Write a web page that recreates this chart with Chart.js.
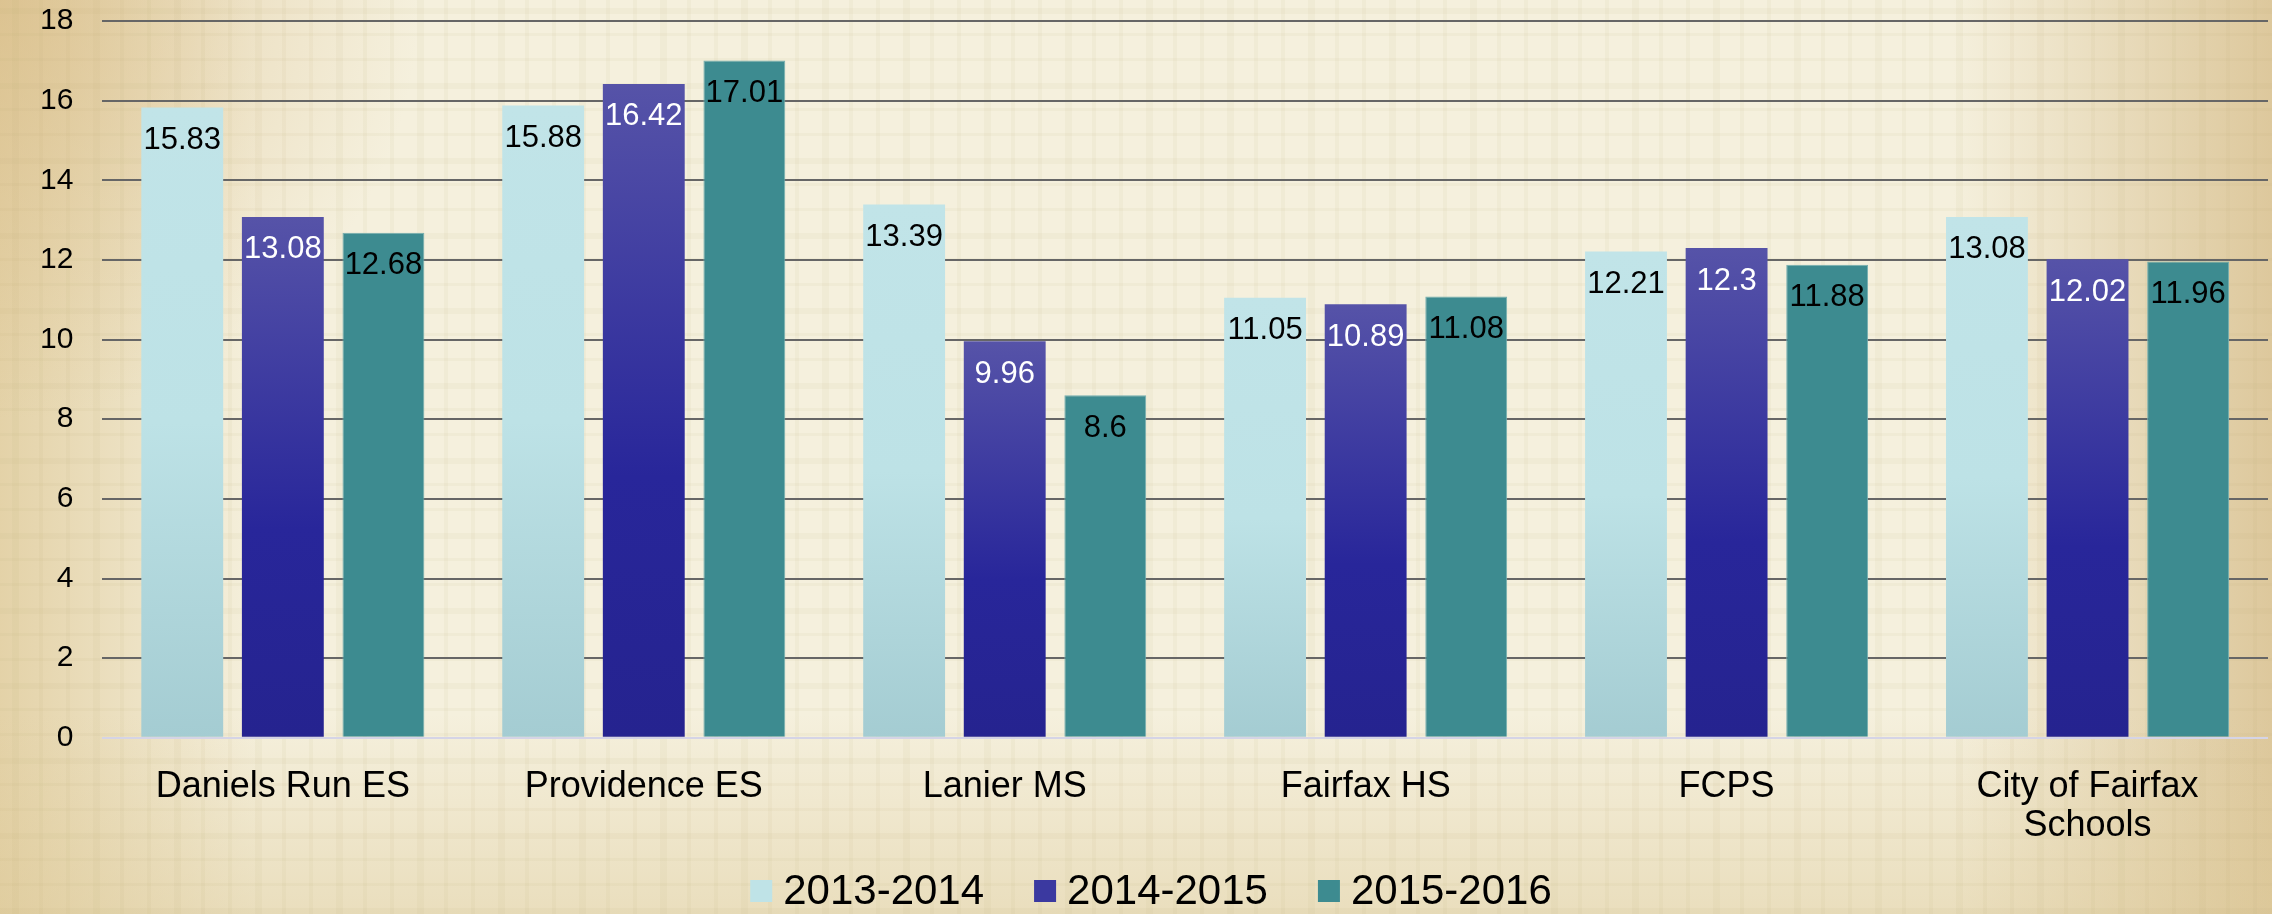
<!DOCTYPE html>
<html>
<head>
<meta charset="utf-8">
<script src="https://cdn.jsdelivr.net/npm/chart.js@4.4.1/dist/chart.umd.min.js"></script>
<style>
  html, body { margin: 0; padding: 0; background: #f4eedb; }
  #wrap { width: 2272px; height: 914px; }
</style>
</head>
<body>
<div id="wrap"><canvas id="expenseChart" width="2272" height="914"></canvas></div>
<script>
// data
const schools = ["Daniels Run ES", "Providence ES", "Lanier MS", "Fairfax HS", "FCPS", ["City of Fairfax", "Schools"]];
const years = ["2013-2014", "2014-2015", "2015-2016"];
const y2013 = [15.83, 15.88, 13.39, 11.05, 12.21, 13.08];
const y2014 = [13.08, 16.42, 9.96, 10.89, 12.3, 12.02];
const y2015 = [12.68, 17.01, 8.6, 11.08, 11.88, 11.96];
const yTicks = [0, 2, 4, 6, 8, 10, 12, 14, 16, 18];

const FONT = "'Liberation Sans', Arial, sans-serif";

// per-bar vertical gradient
function barFill(stops) {
  return function (c) {
    const chart = c.chart;
    const y = chart.scales && chart.scales.y;
    if (!y || c.parsed === undefined) return stops[0][1];
    const yTop = y.getPixelForValue(c.parsed.y);
    const yBot = y.getPixelForValue(0);
    if (!isFinite(yTop) || !isFinite(yBot) || yTop === yBot) return stops[0][1];
    const g = chart.ctx.createLinearGradient(0, yTop, 0, yBot);
    stops.forEach(s => g.addColorStop(s[0], s[1]));
    return g;
  };
}

// parchment background
const paper = {
  id: "paper",
  beforeDraw(chart) {
    const ctx = chart.ctx, w = chart.width, h = chart.height;
    ctx.save();
    ctx.fillStyle = "#f5f0dd";
    ctx.fillRect(0, 0, w, h);
    let g = ctx.createLinearGradient(0, 0, 260, 0);
    g.addColorStop(0, "rgba(222,200,150,0.75)");
    g.addColorStop(1, "rgba(222,200,150,0)");
    ctx.fillStyle = g;
    ctx.fillRect(0, 0, 260, h);
    g = ctx.createLinearGradient(w, 0, w - 320, 0);
    g.addColorStop(0, "rgba(215,190,140,0.8)");
    g.addColorStop(1, "rgba(215,190,140,0)");
    ctx.fillStyle = g;
    ctx.fillRect(w - 320, 0, 320, h);
    g = ctx.createLinearGradient(0, h, 0, h - 200);
    g.addColorStop(0, "rgba(220,200,150,0.45)");
    g.addColorStop(1, "rgba(220,200,150,0)");
    ctx.fillStyle = g;
    ctx.fillRect(0, h - 200, w, 200);
    g = ctx.createRadialGradient(0, 0, 0, 0, 0, 420);
    g.addColorStop(0, "rgba(215,185,130,0.6)");
    g.addColorStop(1, "rgba(215,185,130,0)");
    ctx.fillStyle = g;
    ctx.fillRect(0, 0, 420, 420);
    // faint cloth weave
    ctx.fillStyle = "rgba(190,165,110,0.07)";
    for (let x = 12; x < w; x += 27) ctx.fillRect(x, 0, (x % 81 === 12) ? 7 : 4, h);
    for (let y = 8; y < h; y += 25) ctx.fillRect(0, y, w, (y % 75 === 8) ? 6 : 3);
    ctx.restore();
  }
};

// value labels inside the top of each bar
const valueLabels = {
  id: "valueLabels",
  afterDatasetsDraw(chart) {
    const ctx = chart.ctx;
    ctx.save();
    ctx.font = "31px " + FONT;
    ctx.textAlign = "center";
    ctx.textBaseline = "middle";
    chart.data.datasets.forEach((ds, i) => {
      const meta = chart.getDatasetMeta(i);
      ctx.fillStyle = i === 1 ? "#ffffff" : "#000000";
      meta.data.forEach((bar, j) => {
        ctx.fillText(String(ds.data[j]), bar.x, bar.y + 33);
      });
    });
    ctx.restore();
  }
};

// legend along the bottom, boxes close to the text
const bottomLegend = {
  id: "bottomLegend",
  afterDraw(chart) {
    const ctx = chart.ctx;
    const box = 22, gapText = 11, gapItem = 50;
    ctx.save();
    ctx.font = "42px " + FONT;
    ctx.textBaseline = "middle";
    ctx.textAlign = "left";
    const items = chart.data.datasets.map(ds => ({ ds, w: ctx.measureText(ds.label).width }));
    let total = 0;
    items.forEach((it, i) => { total += box + gapText + it.w + (i ? gapItem : 0); });
    let x = chart.width / 2 + 15 - total / 2;
    const yc = 891;
    items.forEach(it => {
      ctx.fillStyle = it.ds.legendColor;
      ctx.fillRect(x, yc - box / 2, box, box);
      ctx.fillStyle = "#000";
      ctx.fillText(it.ds.label, x + box + gapText, yc + 1);
      x += box + gapText + it.w + gapItem;
    });
    ctx.restore();
  }
};

const ctx = document.getElementById("expenseChart").getContext("2d");
new Chart(ctx, {
  type: "bar",
  data: {
    labels: schools,
    datasets: [
      { label: years[0], data: y2013, backgroundColor: barFill([[0, "#c1e4e8"], [0.5, "#bde2e6"], [1, "#a4ccd2"]]), legendColor: "#bfe3e7" },
      { label: years[1], data: y2014, backgroundColor: barFill([[0, "#5653a8"], [0.6, "#28269a"], [1, "#25238f"]]), legendColor: "#3b39a0" },
      { label: years[2], data: y2015, backgroundColor: "#3d8b90", borderColor: "#74aeb0", borderWidth: 1, legendColor: "#3d8b90" }
    ]
  },
  options: {
    responsive: false,
    animation: false,
    categoryPercentage: 0.836,
    barPercentage: 0.814,
    layout: { padding: { left: 11, right: 4, top: 21, bottom: 39 } },
    plugins: {
      legend: { display: false },
      tooltip: { enabled: false }
    },
    scales: {
      x: {
        grid: { display: false, drawTicks: false },
        border: { display: false },
        ticks: {
          color: "#000",
          padding: 29,
          maxRotation: 0,
          autoSkip: false,
          font: { family: FONT, size: 36, lineHeight: 1.1 }
        }
      },
      y: {
        min: 0,
        max: 18,
        afterBuildTicks(axis) { axis.ticks = yTicks.map(v => ({ value: v })); },
        afterFit(axis) { axis.paddingTop = 0; axis.paddingBottom = 0; },
        grid: {
          drawTicks: false,
          lineWidth: 2,
          color: c => (c.tick && c.tick.value === 0) ? "#d5d4e6" : "#666666"
        },
        border: { display: false },
        ticks: {
          color: "#000",
          padding: 29,
          font: { family: FONT, size: 30 }
        }
      }
    }
  },
  plugins: [paper, valueLabels, bottomLegend]
});
</script>
</body>
</html>
